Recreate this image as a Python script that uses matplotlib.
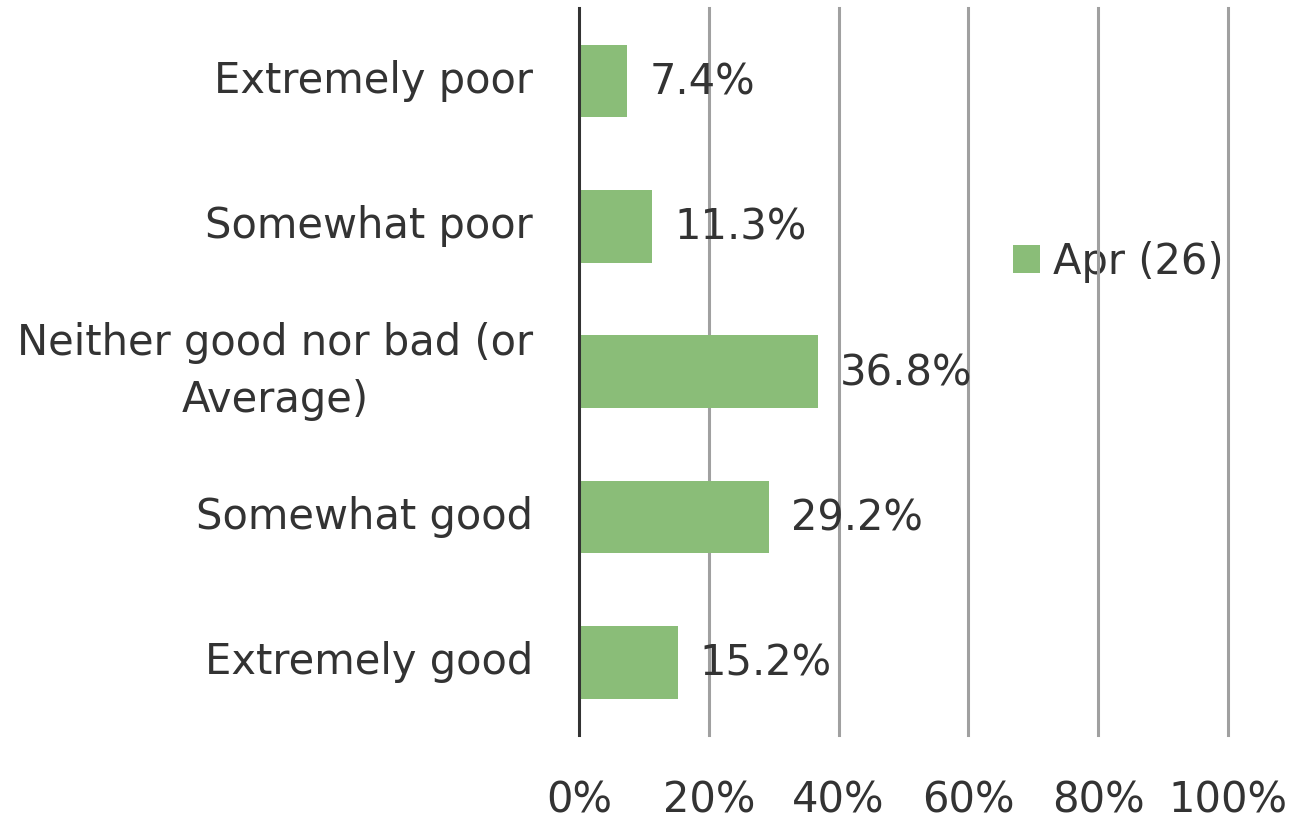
import matplotlib
matplotlib.use("Agg")
import matplotlib.pyplot as plt

categories = ["Extremely poor", "Somewhat poor", "Neither good nor bad (or\nAverage)",
              "Somewhat good", "Extremely good"]
values = [7.4, 11.3, 36.8, 29.2, 15.2]
series_name = "Apr (26)"
ticks = [0, 20, 40, 60, 80, 100]

GREEN = "#8abd78"
INK = "#333333"
GRID = "#a0a0a0"
FS = 30

plt.rcParams["font.family"] = ["DejaVu Sans"]

fig = plt.figure(figsize=(13.02, 8.22), dpi=100)
ax = fig.add_axes([0.4447, 0.1058, 0.4985, 0.8842])

y = list(range(len(categories)))
ax.barh(y, values, height=0.5, color=GREEN, zorder=2, label=series_name)
for yi, v in zip(y, values):
    ax.annotate(f"{v:.1f}%", (v, yi), xytext=(16, -1), textcoords="offset points",
                va="center", ha="left", fontsize=FS, color=INK, zorder=3)

ax.set_xlim(0, 100)
ax.set_ylim(len(categories) - 0.5, -0.5)
ax.set_xticks(ticks)
ax.set_xticklabels([f"{t}%" for t in ticks], fontsize=FS, color=INK)
ax.set_yticks(y)
ax.set_yticklabels(categories, fontsize=FS, color=INK, multialignment="center",
                   linespacing=1.45, va="center")
ax.tick_params(axis="both", length=0)
ax.tick_params(axis="x", pad=32)
ax.tick_params(axis="y", pad=33)

for t in ticks[1:]:
    ax.axvline(t, color=GRID, linewidth=2.2, zorder=1, clip_on=False)
for s in ["top", "right", "bottom"]:
    ax.spines[s].set_visible(False)
ax.spines["left"].set_color(INK)
ax.spines["left"].set_linewidth(2.2)
ax.spines["left"].set_zorder(4)

leg = ax.legend(loc="center left", bbox_to_anchor=(1013 / 1302, 1 - 262 / 822),
                bbox_transform=fig.transFigure, frameon=False, fontsize=FS,
                handlelength=0.65, handleheight=0.65, handletextpad=0.3,
                borderpad=0, borderaxespad=0, labelcolor=INK)
leg.set_zorder(0.5)

fig.savefig("out.png", dpi=100)
